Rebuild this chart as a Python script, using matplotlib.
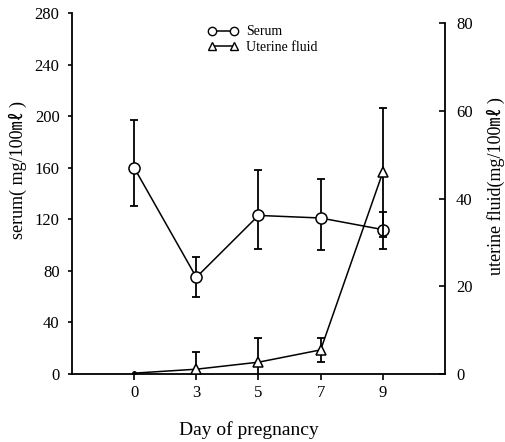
import matplotlib
matplotlib.use("Agg")
import matplotlib.pyplot as plt
import numpy as np

plt.rcParams['font.family'] = ['Liberation Serif', 'Noto Sans CJK SC']

# values
days = ['0', '3', '5', '7', '9']
serum = [160, 75, 123, 121, 112]
serum_err_lo = [30, 15, 26, 25, 15]
serum_err_hi = [37, 16, 35, 30, 14]
uterine = [0.2, 1.1, 2.7, 5.5, 46]
uterine_err = [0, 4, 5.5, 2.8, 14.7]

x = np.arange(len(days))

fig = plt.figure(figsize=(5.06, 4.42), dpi=100)
ax = fig.add_axes([0.1423, 0.1538, 0.7371, 0.8168])
ax2 = ax.twinx()

# serum on left axis
ax.errorbar(x, serum, yerr=[serum_err_lo, serum_err_hi], fmt='none',
            ecolor='black', elinewidth=1.3, capsize=3, capthick=1.3, zorder=2)
ax.plot(x, serum, '-', color='black', lw=1.1, marker='o', ms=8,
        mfc='white', mec='black', mew=1.1, zorder=3, label='Serum')

# uterine fluid on right axis
ax2.errorbar(x[1:], uterine[1:], yerr=uterine_err[1:], fmt='none',
             ecolor='black', elinewidth=1.3, capsize=3, capthick=1.3, zorder=2)
ax2.plot(x, uterine, '-', color='black', lw=1.1, zorder=3)
ax2.plot(x[1:], uterine[1:], linestyle='none', marker='^', ms=7,
         mfc='white', mec='black', mew=1.1, zorder=4)
ax2.plot(x[:1], uterine[:1], linestyle='none', marker='o', ms=2.5,
         color='black', zorder=4)

ax.set_xlim(-1, 5)
ax.set_ylim(0, 280)
ax2.set_ylim(0, 82.3)

ax.set_xticks(x)
ax.set_xticklabels(days)
ax.set_yticks(np.arange(0, 281, 40))
ax2.set_yticks([0, 20, 40, 60, 80])

ax.tick_params(axis='x', direction='out', length=4, width=1.2, labelsize=12, pad=4)
ax.tick_params(axis='y', direction='out', length=3, width=1.2, labelsize=12, pad=6)
ax2.tick_params(axis='y', direction='in', length=4, width=1.2, labelsize=12, pad=8)

for a in (ax, ax2):
    a.spines['top'].set_visible(False)
    for s in ('left', 'right', 'bottom'):
        a.spines[s].set_linewidth(1.3)
ax2.spines['right'].set_bounds(0, 80)
ax.spines['right'].set_visible(False)
ax2.spines['left'].set_visible(False)
ax2.spines['bottom'].set_visible(False)

ax.set_xlabel('Day of pregnancy', fontsize=14)
ax.xaxis.set_label_coords(0.475, -0.13)
ax.set_ylabel('serum( mg/100㎖ )', fontsize=13)
ax.yaxis.set_label_coords(-0.12, 0.565)
ax2.set_ylabel('uterine fluid(mg/100㎖ )', fontsize=13)
ax2.yaxis.set_label_coords(1.112, 0.52)

# legend handles
h1 = plt.Line2D([], [], color='black', lw=1.1, marker='o', ms=6,
                mfc='white', mec='black')
h2 = plt.Line2D([], [], color='black', lw=1.1, marker='^', ms=6,
                mfc='white', mec='black')
ax.legend([h1, h2], ['Serum', 'Uterine fluid'], loc='upper left',
          bbox_to_anchor=(0.33, 1.0), frameon=False, numpoints=2,
          handlelength=2.2, fontsize=10, labelspacing=0.2, handletextpad=0.6)

fig.savefig('out.png', dpi=100)
